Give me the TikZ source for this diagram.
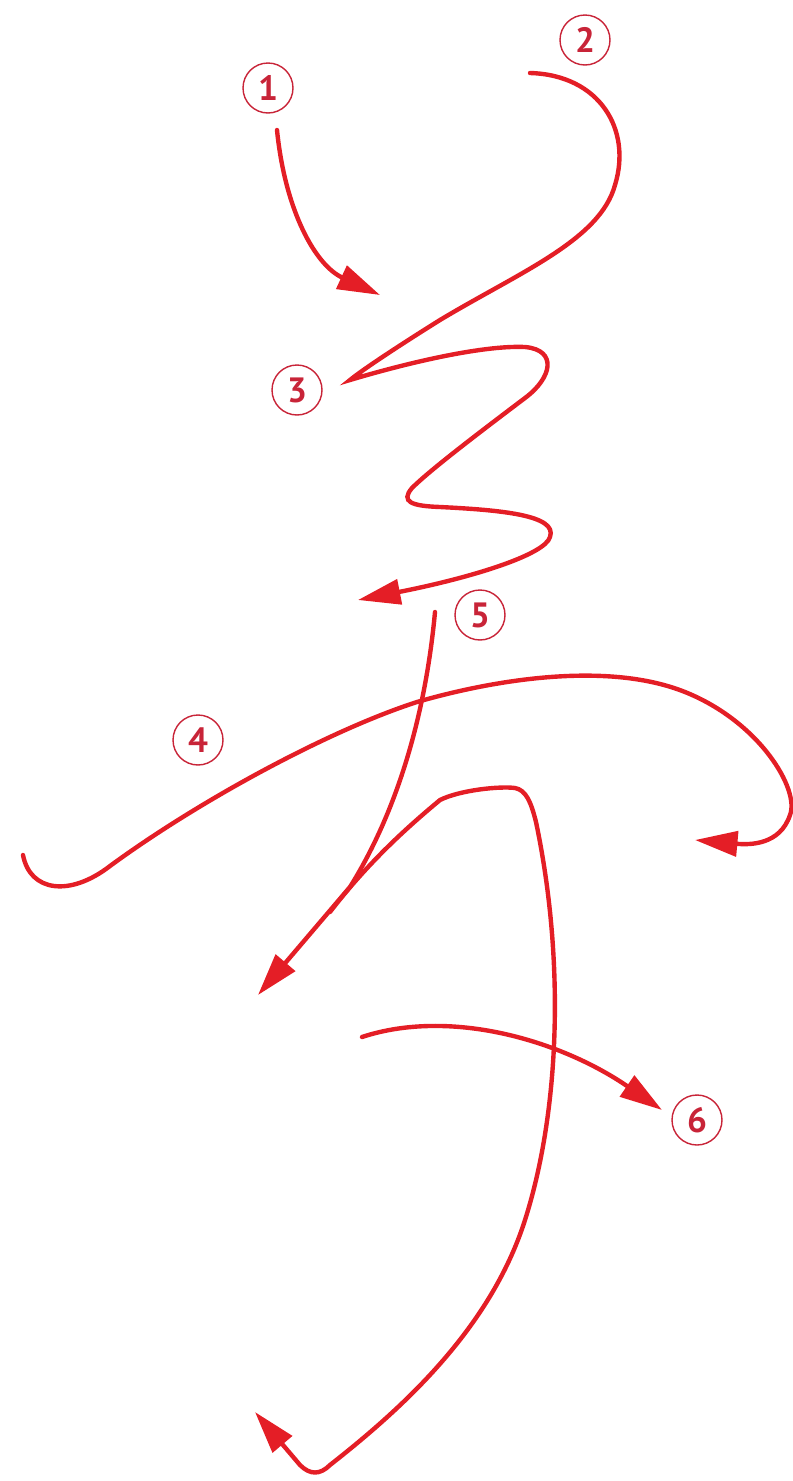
\documentclass[tikz,border=0pt]{standalone}
\usepackage{fontspec}
\setmainfont{PT Sans}
\usetikzlibrary{arrows.meta}
\definecolor{inkred}{RGB}{228,30,38}
\definecolor{numred}{RGB}{200,36,56}
\begin{document}
\begin{tikzpicture}[x=0.02cm, y=-0.02cm,
    brush/.style={draw=inkred, line width=2.5pt, line cap=round},
    arrowed/.style={-{Triangle[length=0.85cm,width=0.5cm]}},
    num/.style={circle, draw=numred, line width=0.8pt, minimum size=1cm, inner sep=0pt,
                text=numred, font=\fontsize{20}{22}\selectfont\bfseries}]
  \useasboundingbox (0,0) rectangle (793,1481);

  % stroke numbers
  \node[num] (n1) at (268,88)  {1};
  \node[num] (n2) at (585,40)  {2};
  \node[num] (n3) at (297,390) {3};
  \node[num] (n4) at (198,740) {4};
  \node[num] (n5) at (480,615) {5};
  \node[num] (n6) at (697,1120) {6};

  % 1
  \draw[brush, arrowed] (277,130) .. controls (285,210) and (315,265) .. (380,295);
  % 2 and 3, the zigzag
  \draw[brush, arrowed] (530,73) .. controls (600,75) and (632,130) .. (615,185)
    .. controls (600,240) and (520,272) .. (440,320)
    .. controls (400,345) and (362,370) .. (350,380)
    .. controls (400,365) and (480,345) .. (525,347)
    .. controls (558,350) and (552,378) .. (525,398)
    .. controls (480,432) and (430,470) .. (412,488)
    .. controls (400,502) and (412,506) .. (440,507)
    .. controls (500,510) and (558,515) .. (550,537)
    .. controls (545,555) and (470,578) .. (358,600);
  % 4
  \draw[brush, arrowed] (23,855) .. controls (30,892) and (70,897) .. (110,866)
    .. controls (200,800) and (330,730) .. (417,702)
    .. controls (500,678) and (610,662) .. (685,692)
    .. controls (760,722) and (800,790) .. (790,815)
    .. controls (780,845) and (750,845) .. (695,840);
  % 5
  \draw[brush, arrowed] (435,612) .. controls (425,720) and (395,815) .. (350,887) -- (258,995);
  \draw[brush, arrowed] (330,912) .. controls (370,860) and (410,825) .. (440,800)
    .. controls (460,790) and (500,786) .. (515,788)
    .. controls (526,790) and (531,802) .. (536,822)
    .. controls (565,960) and (560,1110) .. (525,1220)
    .. controls (490,1330) and (400,1410) .. (330,1465)
    .. controls (320,1475) and (310,1475) .. (300,1465) -- (255,1412);
  % 6
  \draw[brush, arrowed] (362,1037) .. controls (450,1008) and (560,1040) .. (662,1110);
\end{tikzpicture}
\end{document}
